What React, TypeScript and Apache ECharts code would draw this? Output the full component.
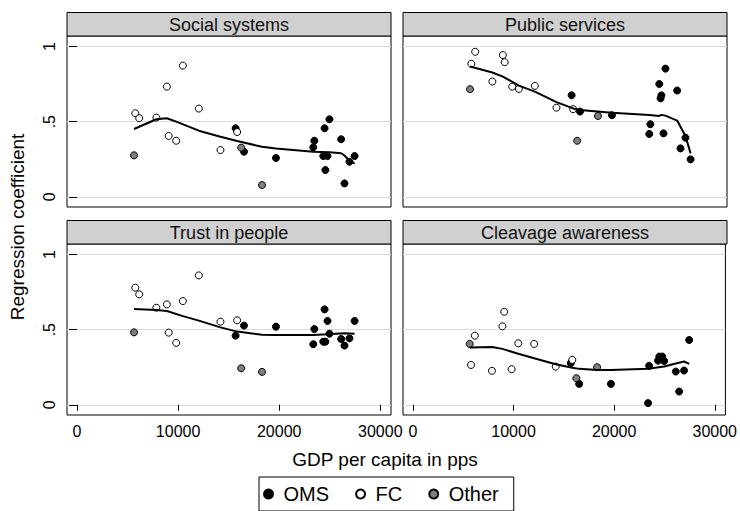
import React, { useEffect, useRef } from "react";
import * as echarts from "echarts";

const FONT = "'Liberation Sans', Arial, Helvetica, sans-serif";

const panelTitles = ["Social systems", "Public services", "Trust in people", "Cleavage awareness"];
const groupNames = ["OMS", "FC", "Other"];
const xTicks = [0, 10000, 20000, 30000];
const yTicks = [0, 0.5, 1];
const yTickLabels = ["0", ".5", "1"];

// GDP per capita (pps) by country group
const omsGdp = [15690, 16520, 19680, 23370, 23480, 24360, 24490, 24570, 24780, 24970, 26130, 26460, 26950, 27460];
const fcGdp = [5770, 6150, 7850, 8890, 9070, 9810, 10470, 12050, 14190, 15840];
const otherGdp = [5640, 16240, 18300];

// Regression coefficients: Social systems
const socialOms = [0.456, 0.3, 0.258, 0.329, 0.373, 0.271, 0.456, 0.178, 0.271, 0.516, 0.383, 0.089, 0.233, 0.271];
const socialFc = [0.556, 0.523, 0.527, 0.733, 0.405, 0.373, 0.873, 0.587, 0.311, 0.431];
const socialOther = [0.276, 0.327, 0.078];
// Public services
const publicOms = [0.676, 0.567, 0.543, 0.418, 0.483, 0.751, 0.655, 0.675, 0.422, 0.853, 0.707, 0.322, 0.393, 0.249];
const publicFc = [0.885, 0.965, 0.767, 0.943, 0.896, 0.733, 0.718, 0.738, 0.593, 0.583];
const publicOther = [0.716, 0.373, 0.538];
// Trust in people
const trustOms = [0.46, 0.527, 0.52, 0.403, 0.504, 0.42, 0.635, 0.42, 0.558, 0.473, 0.438, 0.394, 0.442, 0.558];
const trustFc = [0.779, 0.735, 0.646, 0.668, 0.48, 0.412, 0.69, 0.861, 0.553, 0.562];
const trustOther = [0.482, 0.243, 0.219];
// Cleavage awareness
const cleavageOms = [0.277, 0.139, 0.139, 0.011, 0.259, 0.294, 0.321, 0.31, 0.321, 0.292, 0.221, 0.088, 0.228, 0.431];
const cleavageFc = [0.265, 0.46, 0.226, 0.522, 0.619, 0.237, 0.409, 0.405, 0.254, 0.299];
const cleavageOther = [0.405, 0.177, 0.25];

// Lowess smooths
const lowessSocialX = [5640, 7850, 8890, 9810, 12050, 14190, 15840, 18300, 19680, 23370, 24970, 26130, 26460, 26950, 27460];
const lowessSocialY = [0.451, 0.516, 0.523, 0.5, 0.44, 0.4, 0.371, 0.333, 0.322, 0.3, 0.296, 0.29, 0.275, 0.24, 0.22];
const lowessPublicX = [5640, 7850, 8890, 10470, 12050, 14190, 15840, 16520, 19680, 23370, 24360, 24570, 24970, 26130, 26950, 27460];
const lowessPublicY = [0.867, 0.827, 0.8, 0.74, 0.7, 0.63, 0.588, 0.578, 0.56, 0.545, 0.538, 0.545, 0.54, 0.507, 0.405, 0.289];
const lowessTrustX = [5640, 7850, 8890, 10470, 12050, 14190, 15840, 18300, 19680, 23370, 24780, 26460, 27460];
const lowessTrustY = [0.637, 0.63, 0.624, 0.59, 0.56, 0.515, 0.487, 0.466, 0.465, 0.465, 0.469, 0.476, 0.473];
const lowessCleavageX = [5640, 7850, 8890, 10470, 12050, 14190, 15840, 16520, 18300, 19680, 23370, 24970, 26130, 26950, 27460];
const lowessCleavageY = [0.381, 0.385, 0.372, 0.34, 0.31, 0.27, 0.247, 0.239, 0.232, 0.232, 0.24, 0.255, 0.275, 0.288, 0.272];

const panelOms = [socialOms, publicOms, trustOms, cleavageOms];
const panelFc = [socialFc, publicFc, trustFc, cleavageFc];
const panelOther = [socialOther, publicOther, trustOther, cleavageOther];
const panelLowessX = [lowessSocialX, lowessPublicX, lowessTrustX, lowessCleavageX];
const panelLowessY = [lowessSocialY, lowessPublicY, lowessTrustY, lowessCleavageY];

const zip = (xs: number[], ys: number[]) => xs.map((x, i) => [x, ys[i]]);

export default function App() {
  const ref = useRef<HTMLDivElement>(null);
  useEffect(() => {
    if (!ref.current) return;
    const chart = echarts.init(ref.current, undefined, { renderer: "svg" });
    const grids = [
      { left: 67, top: 36, width: 324, height: 171 },
      { left: 403, top: 36, width: 324, height: 171 },
      { left: 67, top: 244, width: 324, height: 171 },
      { left: 403, top: 244, width: 324, height: 171 },
    ];
    const xAxes = grids.map((_, i) => {
      const bottom = i >= 2;
      return {
        type: "value",
        gridIndex: i,
        min: -990,
        max: 31060,
        axisLine: { show: false },
        splitLine: { show: false },
        axisTick: {
          show: bottom,
          customValues: xTicks,
          length: 6,
          lineStyle: { color: "#000", width: 1 },
        },
        axisLabel: {
          show: bottom,
          customValues: xTicks,
          fontSize: 16,
          color: "#000",
          fontFamily: FONT,
          margin: 8,
          formatter: (v: number) => String(Math.round(v)),
        },
      };
    });
    const yAxes = grids.map((_, i) => {
      const left = i % 2 === 0;
      return {
        type: "value",
        gridIndex: i,
        min: -0.068,
        max: 1.07,
        axisLine: { show: false },
        splitLine: { show: true, lineStyle: { color: "#dcdcdc", width: 1 } },
        axisTick: {
          show: left,
          customValues: yTicks,
          length: 8,
          lineStyle: { color: "#000", width: 1 },
        },
        axisLabel: {
          show: left,
          customValues: yTicks,
          rotate: 90,
          fontSize: 16,
          color: "#000",
          fontFamily: FONT,
          margin: 10,
          formatter: (v: number) => {
            const k = yTicks.findIndex((t) => Math.abs(t - v) < 1e-9);
            return k >= 0 ? yTickLabels[k] : "";
          },
        },
      };
    });
    const series: any[] = [];
    grids.forEach((_, p) => {
      series.push({
        type: "scatter",
        name: groupNames[0],
        xAxisIndex: p,
        yAxisIndex: p,
        data: zip(omsGdp, panelOms[p]),
        symbol: "circle",
        symbolSize: 7,
        itemStyle: { color: "#000", borderColor: "#000", borderWidth: 1, opacity: 1 },
        z: 3,
      });
      series.push({
        type: "scatter",
        name: groupNames[1],
        xAxisIndex: p,
        yAxisIndex: p,
        data: zip(fcGdp, panelFc[p]),
        symbol: "circle",
        symbolSize: 7,
        itemStyle: { color: "#fff", borderColor: "#000", borderWidth: 1, opacity: 1 },
        z: 3,
      });
      series.push({
        type: "scatter",
        name: groupNames[2],
        xAxisIndex: p,
        yAxisIndex: p,
        data: zip(otherGdp, panelOther[p]),
        symbol: "circle",
        symbolSize: 7,
        itemStyle: { color: "#7f7f7f", borderColor: "#000", borderWidth: 1, opacity: 1 },
        z: 3,
      });
      series.push({
        type: "line",
        name: "lowess",
        xAxisIndex: p,
        yAxisIndex: p,
        data: zip(panelLowessX[p], panelLowessY[p]),
        symbol: "none",
        showSymbol: false,
        lineStyle: { color: "#000", width: 2 },
        z: 5,
      });
    });

    const graphics: any[] = [];
    grids.forEach((g, p) => {
      const headerTop = p < 2 ? 12.5 : 220.5;
      const headerH = g.top - headerTop;
      graphics.push({
        type: "rect",
        shape: { x: g.left, y: headerTop, width: g.width, height: headerH },
        style: { fill: "#d0d0d0", stroke: "#000", lineWidth: 1 },
        z: 10,
      });
      graphics.push({
        type: "text",
        x: g.left + g.width / 2,
        y: headerTop + headerH / 2 + 0.5,
        style: {
          text: panelTitles[p],
          font: `18px ${FONT}`,
          fill: "#111",
          textAlign: "center",
          textVerticalAlign: "middle",
        },
        z: 11,
      });
    });
    graphics.push({
      type: "text",
      x: 17,
      y: 227,
      rotation: Math.PI / 2,
      style: {
        text: "Regression coefficient",
        font: `19px ${FONT}`,
        fill: "#000",
        textAlign: "center",
        textVerticalAlign: "middle",
      },
    });
    graphics.push({
      type: "text",
      x: 385,
      y: 459,
      style: {
        text: "GDP per capita in pps",
        font: `19px ${FONT}`,
        fill: "#000",
        textAlign: "center",
        textVerticalAlign: "middle",
      },
    });

    chart.setOption({
      animation: false,
      backgroundColor: "#fff",
      textStyle: { fontFamily: FONT },
      grid: grids.map((g) => ({
        ...g,
        show: true,
        borderColor: "#000",
        borderWidth: 1,
        backgroundColor: "#fff",
        containLabel: false,
      })),
      xAxis: xAxes,
      yAxis: yAxes,
      legend: {
        data: groupNames,
        left: 259,
        top: 477,
        orient: "horizontal",
        icon: "circle",
        itemWidth: 20,
        itemHeight: 9,
        itemGap: 26,
        padding: [7, 15, 7, 4],
        borderColor: "#000",
        borderWidth: 1,
        backgroundColor: "#fff",
        selectedMode: false,
        textStyle: { fontSize: 20, color: "#000", fontFamily: FONT },
      },
      series,
      graphic: graphics,
    });
    return () => chart.dispose();
  }, []);
  return (
    <div
      ref={ref}
      style={{ position: "absolute", left: 0, top: 0, width: 740, height: 511 }}
    />
  );
}
